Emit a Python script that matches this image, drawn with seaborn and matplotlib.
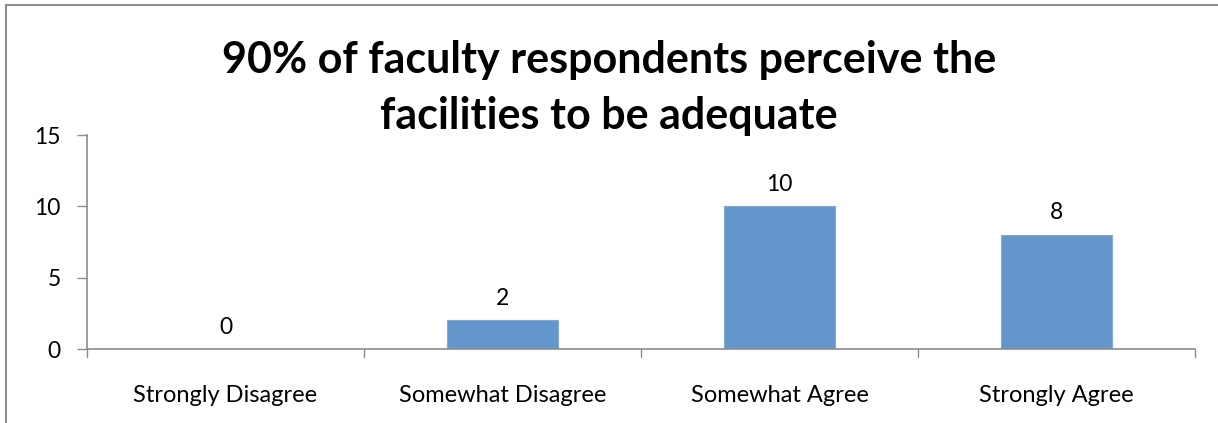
import matplotlib
matplotlib.use("Agg")
import matplotlib.pyplot as plt
import seaborn as sns
import pandas as pd
from matplotlib.patches import Rectangle

categories = ["Strongly Disagree", "Somewhat Disagree", "Somewhat Agree", "Strongly Agree"]
counts = [0, 2, 10, 8]
y_ticks = [0, 5, 10, 15]
title = "90% of faculty respondents perceive the\nfacilities to be adequate"

sns.set_theme(style="white")
plt.rcParams["font.family"] = ["Lato", "DejaVu Sans"]

df = pd.DataFrame({"category": categories, "count": counts})

fig = plt.figure(figsize=(12.18, 4.23), dpi=100)
ax = fig.add_axes([87 / 1218, 1 - 349 / 423, (1195 - 87) / 1218, (349 - 135) / 423])

sns.barplot(data=df, x="category", y="count", color="#6397cc", width=0.4,
            saturation=1, edgecolor="#7fa9d6", linewidth=0.8, ax=ax)

ax.set_xlim(-0.5, len(categories) - 0.5)
ax.set_ylim(0, 15)
ax.set_yticks(y_ticks)
ax.set_yticklabels([str(t) for t in y_ticks], fontsize=16.5, color="#000000")
ax.set_xticks(range(len(categories)))
ax.set_xticklabels(categories, fontsize=17, color="#000000")
ax.tick_params(axis="x", length=0, pad=26)
ax.tick_params(axis="y", length=7, width=1, color="#8c8c8c", left=True, pad=12)

# category boundary ticks below the x axis
for b in [i - 0.5 for i in range(len(categories) + 1)]:
    ax.plot([b, b], [0, -0.55], color="#8c8c8c", lw=1, clip_on=False)

for s in ["top", "right"]:
    ax.spines[s].set_visible(False)
for s in ["left", "bottom"]:
    ax.spines[s].set_color("#8c8c8c")
    ax.spines[s].set_linewidth(1.2)
ax.set_xlabel("")
ax.set_ylabel("")

for i, v in enumerate(counts):
    ax.text(i, v + 0.8, str(v), ha="center", va="bottom", fontsize=16.5, color="#000000")

fig.text(0.5, 1 - 88 / 423, title, ha="center", va="center", fontsize=31,
         fontweight="bold", linespacing=1.5, color="#000000")

# outer chart border
fig.patches.append(Rectangle((6 / 1218, -0.01), 1.02, 1 - 5 / 423 + 0.01,
                             transform=fig.transFigure, fill=False,
                             edgecolor="#8c8c8c", linewidth=1.5))

fig.savefig("out.png", dpi=100)
